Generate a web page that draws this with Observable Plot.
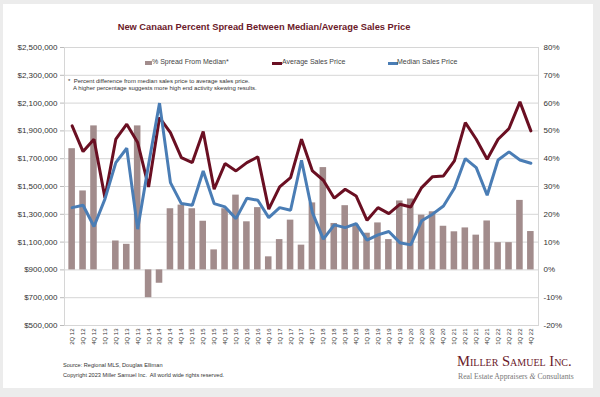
<!DOCTYPE html>
<html><head><meta charset="utf-8">
<script src="https://cdn.jsdelivr.net/npm/d3@7"></script>
<script src="https://cdn.jsdelivr.net/npm/@observablehq/plot@0.6"></script>
<style>
html,body{margin:0;padding:0;}
body{width:600px;height:397px;background:#ececec;font-family:"Liberation Sans",Arial,sans-serif;position:relative;overflow:hidden;}
#card{position:absolute;left:3px;top:4px;width:590px;height:384px;background:#fff;}
#chart{position:absolute;left:0;top:0;}
.abs{position:absolute;white-space:nowrap;}
#title{left:0;width:528px;text-align:center;top:22px;font-size:9.3px;font-weight:bold;color:#6b1a2a;}
.legend{top:58px;font-size:7px;color:#444;}
.sw{position:absolute;}
#note{left:68px;top:78px;font-size:6px;line-height:7.3px;color:#333;}
#foot{left:63px;top:361px;font-size:5.6px;line-height:9.5px;color:#333;}
#logo1{left:457px;top:353px;font-family:"Liberation Serif","Times New Roman",serif;font-variant:small-caps;font-size:14.6px;color:#6b1a2a;}
#logo2{left:458px;top:372px;font-family:"Liberation Serif","Times New Roman",serif;font-size:7.7px;color:#777;}
</style></head><body>
<div id="card"></div>
<div id="chart"></div>
<div id="title" class="abs">New Canaan Percent Spread Between Median/Average Sales Price</div>
<div class="abs sw" style="left:145px;top:61px;width:7px;height:4px;background:#a28c8c"></div>
<div class="abs legend" style="left:152px">% Spread From Median*</div>
<div class="abs sw" style="left:272px;top:61.5px;width:10px;height:3px;background:#6a0f22"></div>
<div class="abs legend" style="left:282px">Average Sales Price</div>
<div class="abs sw" style="left:388px;top:61.5px;width:10px;height:3px;background:#4a7db5"></div>
<div class="abs legend" style="left:397px">Median Sales Price</div>
<div id="note" class="abs">*&nbsp; Percent difference from median sales price to average sales price.<br>&nbsp;&nbsp;&nbsp;A higher percentage suggests more high end activity skewing results.</div>
<div id="foot" class="abs">Source: Regional MLS, Douglas Elliman<br>Copyright 2023 Miller Samuel Inc.&nbsp; All world wide rights reserved.</div>
<div id="logo1" class="abs">Miller Samuel Inc.</div>
<div id="logo2" class="abs">Real Estate Appraisers <i>&amp;</i> Consultants</div>
<script>
const quarters = ["2Q 12","3Q 12","4Q 12",
  "1Q 13","2Q 13","3Q 13","4Q 13","1Q 14","2Q 14","3Q 14","4Q 14",
  "1Q 15","2Q 15","3Q 15","4Q 15","1Q 16","2Q 16","3Q 16","4Q 16",
  "1Q 17","2Q 17","3Q 17","4Q 17","1Q 18","2Q 18","3Q 18","4Q 18",
  "1Q 19","2Q 19","3Q 19","4Q 19","1Q 20","2Q 20","3Q 20","4Q 20",
  "1Q 21","2Q 21","3Q 21","4Q 21","1Q 22","2Q 22","3Q 22","4Q 22"];
const averagePrice = [1936000,1751000,1840000,1420000,1840000,1948000,1816000,1497000,1996000,1888000,1708000,
  1672000,1895000,1480000,1665000,1612000,1672000,1713000,1337000,1497000,1564000,1840000,1612000,
  1545000,1416000,1480000,1432000,1257000,1348000,1305000,1372000,1353000,1492000,1571000,1576000,
  1684000,1960000,1840000,1696000,1840000,1917000,2109000,1900000];
const medianPrice = [1348000,1365000,1212000,1409000,1672000,1775000,1193000,1660000,2100000,1528000,1377000,
  1365000,1612000,1377000,1353000,1269000,1416000,1401000,1276000,1348000,1329000,1689000,1312000,
  1121000,1224000,1204000,1233000,1114000,1152000,1176000,1096000,1080000,1253000,1301000,1360000,
  1488000,1701000,1636000,1437000,1691000,1749000,1691000,1667000];
const spreadPct = [43.6,28.4,51.8,0,10.4,9.2,51.8,-10,-4.8,22,23.3,
  22,17.5,7.2,22,26.9,17.3,22.4,4.7,10.9,17.9,8.9,24.1,
  36.8,16.7,23.1,16.1,13.2,16.9,10.9,24.8,25.5,19.7,20.9,15.7,
  13.7,15.1,12.5,17.6,9.8,9.8,25,13.8];
const dollarTicks = [500000,700000,900000,1100000,1300000,1500000,1700000,1900000,2100000,2300000,2500000];
const pctTicks = [-20,-10,0,10,20,30,40,50,60,70,80];

// percent axis shares the dollar scale: 0% = $900,000, 10% = $200,000
const pctToY = p => 900000 + p * 20000;
const rows = quarters.map((q, i) => ({q, avg: averagePrice[i], med: medianPrice[i], sp: spreadPct[i]}));

const chart = Plot.plot({
  width: 600, height: 355,
  marginLeft: 64, marginRight: 62, marginTop: 47, marginBottom: 30,
  style: {fontFamily: "Liberation Sans, Arial, sans-serif", fontSize: "8px", color: "#333", background: "transparent"},
  x: {type: "band", domain: quarters, padding: 0.4},
  y: {domain: [500000, 2500000]},
  marks: [
    Plot.ruleY(dollarTicks, {stroke: "#d6d6d6", strokeWidth: 1}),
    Plot.frame({stroke: "#d6d6d6"}),
    Plot.barY(rows.filter(d => d.sp !== 0), {x: "q", y1: pctToY(0), y2: d => pctToY(d.sp), fill: "#a28c8c"}),
    Plot.line(rows, {x: "q", y: "avg", stroke: "#6a0f22", strokeWidth: 3, strokeLinejoin: "miter"}),
    Plot.line(rows, {x: "q", y: "med", stroke: "#4a7db5", strokeWidth: 3, strokeLinejoin: "miter"}),
    Plot.axisY({ticks: dollarTicks, anchor: "left", tickSize: 4, tickPadding: 3, stroke: "#bbb",
      tickFormat: d => "$" + d3.format(",")(d), label: null, fontSize: 8}),
    Plot.axisY({ticks: pctTicks.map(pctToY), anchor: "right", tickSize: 0, tickPadding: 5,
      tickFormat: d => Math.round((d - 900000) / 20000) + "%", label: null, fontSize: 8}),
    Plot.axisX({tickRotate: -90, tickSize: 0, tickPadding: 3, fontSize: 6, label: null})
  ]
});
document.getElementById("chart").appendChild(chart);
</script>
</body></html>
